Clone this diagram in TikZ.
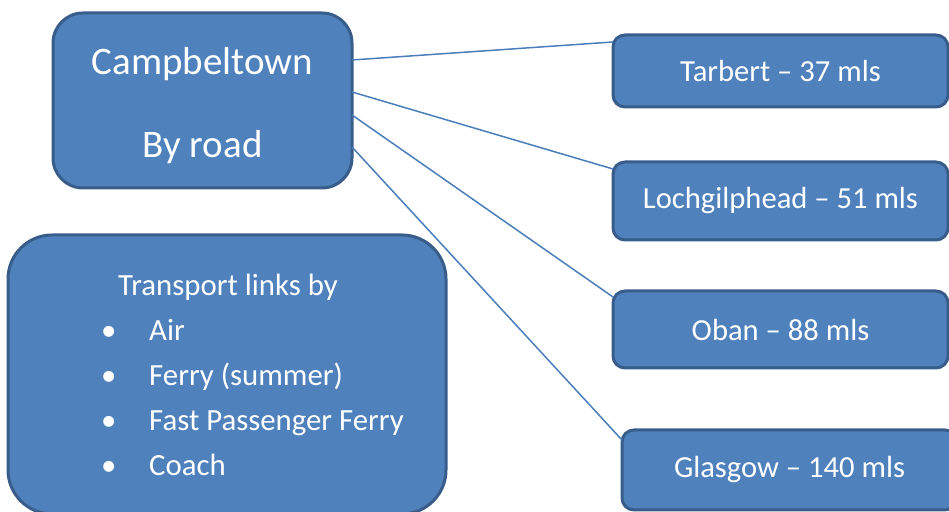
\documentclass[tikz,border=0pt]{standalone}
\usepackage{fontspec}
\setmainfont{Carlito}
\usetikzlibrary{positioning}
\definecolor{boxblue}{HTML}{4F81BD}
\definecolor{boxedge}{HTML}{385D8A}
\definecolor{linkblue}{HTML}{4A7EBB}

\begin{document}
\begin{tikzpicture}[
    x=1pt, y=1pt,
    hub/.style={draw=boxedge, line width=1.5pt, fill=boxblue, rounded corners=15pt, outer sep=0pt,
        text=white, align=center, minimum width=149.5pt, minimum height=87.5pt,
        font=\fontsize{19.5}{41.5}\selectfont},
    place/.style={draw=boxedge, line width=1.5pt, fill=boxblue, rounded corners=6pt, outer sep=0pt,
        text=white, minimum width=167.5pt, font=\fontsize{15.3}{18}\selectfont},
    info/.style={draw=boxedge, line width=1.5pt, fill=boxblue, rounded corners=22pt, outer sep=0pt,
        text=white, align=left, minimum width=219pt, minimum height=139.5pt,
        font=\fontsize{15.4}{22.5}\selectfont},
    link/.style={draw=linkblue, line width=0.75pt},
]
\useasboundingbox (0,0) rectangle (474.5,256);

% Main box
\node[hub] (camp) at (101.25,205.75) {\rule{0pt}{18.5pt}Campbeltown\\By road};

% Destinations
\node[place, minimum height=36pt] (tarbert) at (390.25,220.5) {Tarbert – 37 mls};
\node[place, minimum height=39pt, below=27.5pt of tarbert] (loch) {Lochgilphead – 51 mls};
\node[place, minimum height=38.5pt, below=25.5pt of loch] (oban) {Oban – 88 mls};
\node[place, minimum height=40pt, below=31pt of oban, xshift=4.5pt] (glasgow) {Glasgow – 140 mls};

% Other transport
\node[info, below=23.5pt of camp, xshift=12.25pt] (links) {
    \hspace*{34pt}Transport links by\\
    \hspace*{25.5pt}\makebox[24pt][l]{•}Air\\
    \hspace*{25.5pt}\makebox[24pt][l]{•}Ferry (summer)\\
    \hspace*{25.5pt}\makebox[24pt][l]{•}Fast Passenger Ferry\\
    \hspace*{25.5pt}\makebox[24pt][l]{•}Coach
};

% Road links
\draw[link] ([yshift=20.25pt]camp.east) -- ([yshift=-3.5pt]tarbert.north west);
\draw[link] ([yshift=4.25pt]camp.east) -- ([yshift=-3.5pt]loch.north west);
\draw[link] ([yshift=-7.25pt]camp.east) -- ([yshift=-3pt]oban.north west);
\draw[link] ([yshift=-23.25pt]camp.east) -- ([yshift=-5pt]glasgow.north west);

\end{tikzpicture}
\end{document}
